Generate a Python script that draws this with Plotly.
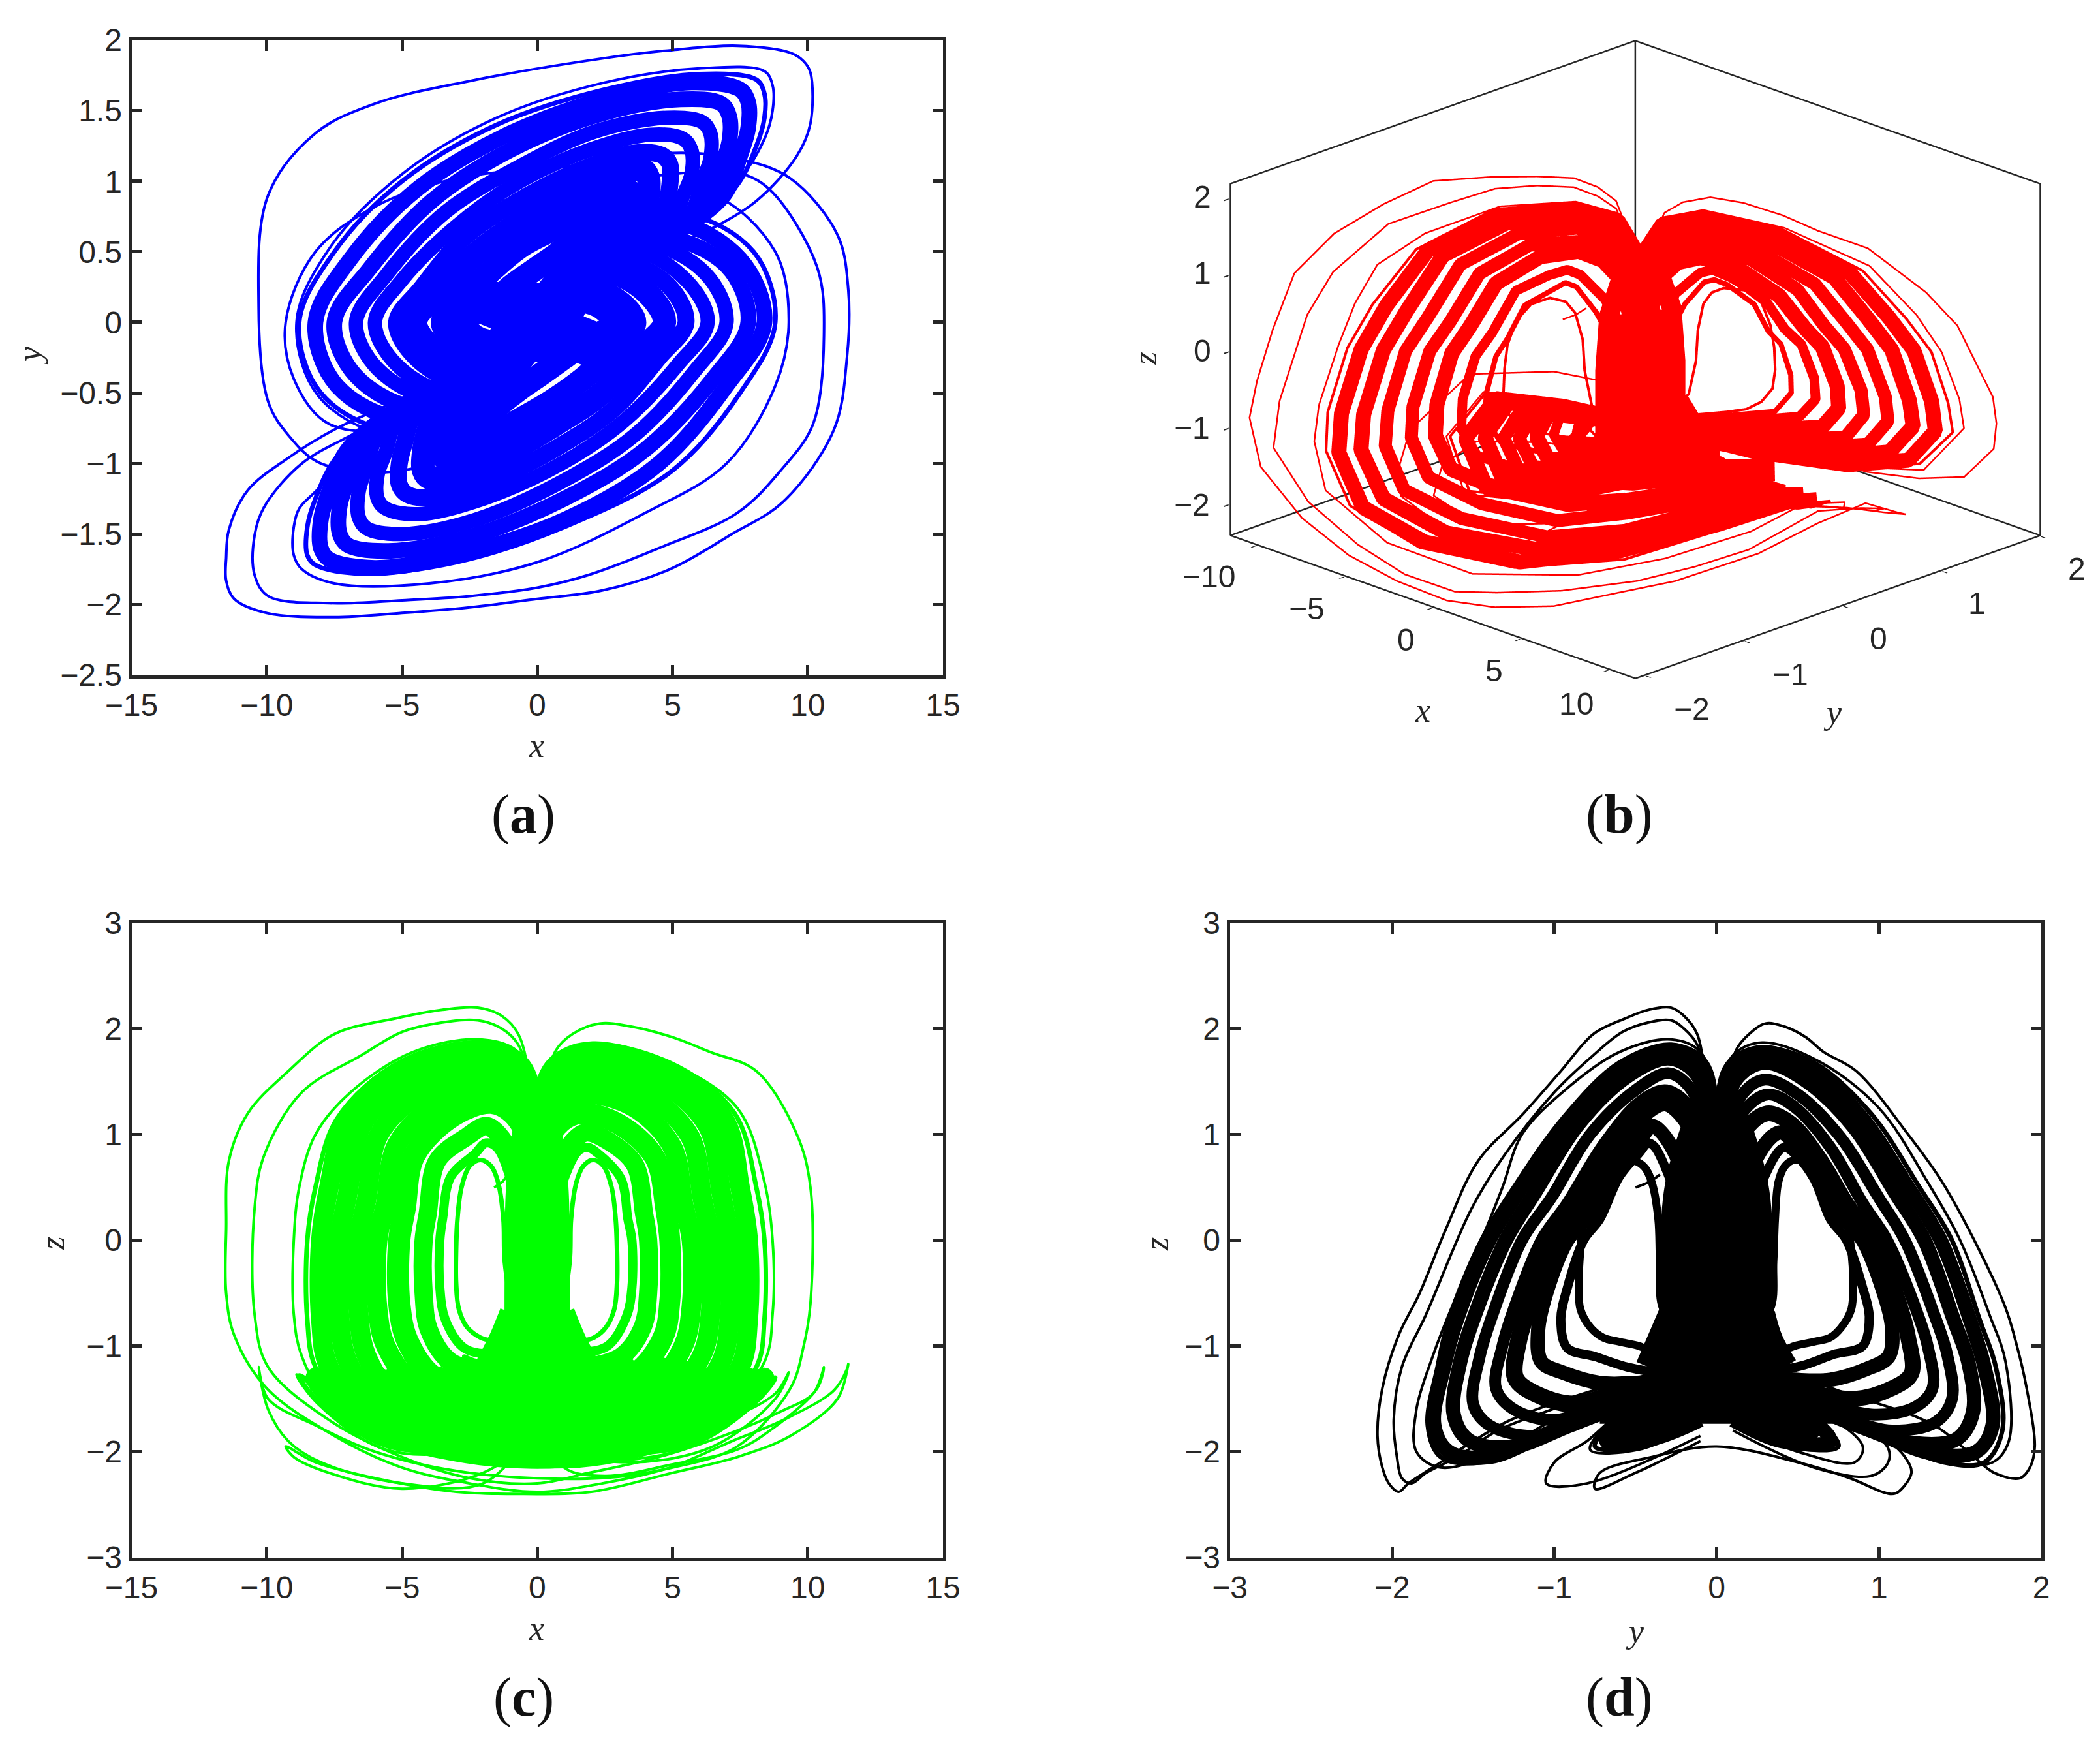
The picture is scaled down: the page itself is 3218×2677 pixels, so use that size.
import plotly.graph_objects as go

W, H = 3218, 2677

# trajectory read from the four projections: one row per excursion
x_left = [
 [.1,-.02,-.05,-.12,-.3,-.7,-1.3,-2.2,-3.5,-5.2,-7.5,-9.2,-10.7,-11.4,-11.5,-11.5,-11.2,-10,-7.5,-5,-2.5,0,2.4,4.9,7.2,9.1,10.97,11.45,11.5,11.1,9.36,7.4,5,2,-.5,-3,-6,-8.2,-9.3,-9,-7.7,-5,-2,-.3],
 [.1,-.02,-.05,-.12,-.3,-.7,-1.3,-2.2,-3.5,-5,-6.5,-8.7,-10.1,-10.45,-10.45,-9.95,-7.7,-5,-2.5,0,1.9,4.5,7.4,9,10.2,10.6,10.35,8.6,7.4,5,2.5,1,.3],
 [.1,-.05,-.15,-.7,-2.1,-4.6,-6.9,-8.2,-8.8,-9,-9,-8.7,-7.5,-4,0,4,7,8.8,9.3,8.8,6.5,3.5,1.3,.3],
 [.1,-.05,-.15,-.7,-2.1,-5.1,-7.4,-8.2,-8.5,-8.5,-8.2,-6.5,-3,1,5,7.5,8.8,8,5.5,2.5,.3],
 [.1,-.05,-.15,-.7,-2.1,-4.9,-7,-7.7,-8,-8,-7.7,-6,-3,1,4.5,7,8.4,7.5,5,2.3,.3],
 [.1,-.05,-.18,-.75,-2,-4.5,-6.45,-7,-7.3,-7.3,-7,-5.5,-2.5,1,4,6.5,7.8,7,4.5,2,.3],
 [.1,-.08,-.2,-.8,-1.9,-4.1,-5.85,-6.3,-6.6,-6.6,-6.3,-5,-2.3,1,3.6,5.8,7,6.2,4,1.8,.3],
 [.1,-.1,-.25,-.85,-1.8,-3.6,-5.2,-5.6,-5.9,-5.9,-5.6,-4.4,-2,.9,3.2,5.2,6.3,5.5,3.6,1.6,.3],
 [.1,-.12,-.3,-.9,-1.7,-3.1,-4.55,-4.9,-5.1,-5.1,-4.8,-3.8,-1.7,.8,2.8,4.5,5.5,4.8,3.1,1.4,.3],
 [.1,-.3,-.75,-1.5,-1.9,-2.6,-3.7,-4.05,-4.2,-4.2,-4,-3.2,-1.4,.7,2.4,3.8,4.7,4,2.6,1.2,.3],
 [.1,-.4,-.95,-1.5,-1.9,-2.3,-3.2,-3.5,-3.6,-3.6,-3.4,-2.7,-1.2,.6,2,3,3.6,3,2,1,.3],
 [.2,-.6,-.9,-1.2,-1.25,-1.45,-1.7,-2.1,-2.5,-2.8,-2.95,-3,-3,-2.9,-2.6,-2.1,-1.5,-.7,.2,1,1.8,2.4,2.8,2.4,1.6,.8,.2],
]
y_left = [
 [0,-.01,-.01,-.03,-.07,-.12,-.2,-.28,-.42,-.56,-.76,-.96,-1.19,-1.47,-1.67,-1.83,-1.96,-2.06,-2.09,-2.06,-2.02,-1.96,-1.9,-1.75,-1.5,-1.27,-.76,-.25,.23,.62,1.02,1.16,1.2,1.12,1.08,1.02,.82,.5,0,-.4,-.72,-.75,-.5,-.1],
 [0,-.01,-.01,-.03,-.07,-.12,-.2,-.28,-.42,-.58,-.76,-1,-1.31,-1.51,-1.79,-1.94,-1.99,-1.97,-1.94,-1.88,-1.79,-1.6,-1.35,-1.05,-.72,-.09,.39,.94,1.06,1.05,.95,.6,.1],
 [0,-.01,-.03,-.1,-.28,-.6,-.95,-1.2,-1.32,-1.45,-1.65,-1.75,-1.85,-1.85,-1.7,-1.35,-1,-.45,0,.5,.9,.85,.5,.1],
 [0,-.01,-.03,-.1,-.28,-.6,-.95,-1.25,-1.45,-1.65,-1.72,-1.78,-1.7,-1.45,-1.05,-.5,0,.5,.75,.45,.1],
 [0,-.01,-.03,-.1,-.28,-.58,-.9,-1.2,-1.4,-1.6,-1.68,-1.74,-1.65,-1.4,-1,-.45,0,.45,.7,.4,.1],
 [0,-.02,-.05,-.14,-.3,-.55,-.85,-1.12,-1.3,-1.5,-1.58,-1.62,-1.52,-1.25,-.9,-.4,0,.4,.6,.35,.08],
 [0,-.03,-.08,-.18,-.3,-.5,-.78,-1.02,-1.2,-1.38,-1.46,-1.5,-1.4,-1.12,-.8,-.35,0,.35,.55,.3,.07],
 [0,-.04,-.1,-.2,-.32,-.48,-.7,-.92,-1.08,-1.25,-1.32,-1.36,-1.25,-1,-.7,-.3,0,.3,.5,.28,.06],
 [0,-.05,-.12,-.22,-.32,-.46,-.65,-.85,-1,-1.15,-1.22,-1.24,-1.12,-.88,-.62,-.25,0,.27,.42,.25,.06],
 [0,-.1,-.22,-.34,-.4,-.46,-.6,-.78,-.92,-1.05,-1.1,-1.08,-.95,-.72,-.5,-.2,0,.22,.35,.2,.05],
 [0,-.15,-.28,-.38,-.42,-.48,-.6,-.72,-.82,-.92,-.96,-.92,-.75,-.55,-.35,-.15,0,.15,.22,.15,.05],
 [0,-.2,-.33,-.35,-.36,-.4,-.45,-.54,-.66,-.76,-.82,-.84,-.85,-.84,-.78,-.7,-.6,-.48,-.36,-.25,-.14,-.07,0,.1,.15,.1,.03],
]
z_left = [
 [-1.7,-.5,.4,1.1,1.55,1.95,2.12,2.2,2.18,2.1,1.95,1.6,1.2,.75,.1,-.5,-.9,-1.4,-1.85,-2.15,-2.3,-2.38,-2.3,-2.15,-1.9,-1.7,-1.42,-1.22,-1.17,-1.5,-1.85,-2.05,-2.2,-2.38,-2.4,-2.38,-2.25,-2.1,-1.95,-2.05,-2.2,-2.35,-2.2,-1.9],
 [-1.6,-.5,.4,1.05,1.5,1.85,2,2.08,2.06,1.97,1.75,1.4,.8,.3,-.7,-1.2,-1.7,-2.05,-2.25,-2.3,-2.2,-2.05,-1.8,-1.62,-1.45,-1.2,-1.4,-1.8,-1.98,-2.12,-2.23,-2.15,-1.8],
 [-1.55,.4,1.42,1.78,1.9,1.78,1.4,1,.5,0,-.7,-1.1,-1.6,-2,-2.15,-2,-1.7,-1.45,-1.25,-1.5,-1.95,-2.1,-2,-1.75],
 [-1.5,.4,1.38,1.72,1.85,1.68,1.15,.5,0,-.75,-1.2,-1.75,-2.05,-2.1,-1.85,-1.5,-1.3,-1.55,-1.95,-1.95,-1.7],
 [-1.5,.4,1.33,1.68,1.8,1.63,1.15,.5,0,-.75,-1.2,-1.75,-2,-2.05,-1.8,-1.5,-1.3,-1.55,-1.9,-1.9,-1.7],
 [-1.5,.4,1.28,1.6,1.72,1.55,1.1,.45,0,-.75,-1.15,-1.65,-1.9,-1.95,-1.75,-1.45,-1.3,-1.5,-1.8,-1.8,-1.65],
 [-1.45,.3,1.15,1.47,1.58,1.42,1,.4,0,-.7,-1.1,-1.55,-1.75,-1.85,-1.7,-1.45,-1.3,-1.5,-1.7,-1.7,-1.6],
 [-1.4,.3,1.05,1.32,1.42,1.3,.9,.35,0,-.65,-1,-1.4,-1.6,-1.7,-1.55,-1.4,-1.3,-1.45,-1.6,-1.6,-1.5],
 [-1.35,.2,.92,1.2,1.3,1.18,.8,.3,0,-.6,-.95,-1.3,-1.45,-1.55,-1.45,-1.35,-1.25,-1.4,-1.5,-1.5,-1.45],
 [-1.3,.1,.7,1.02,1.08,.98,.75,.25,0,-.5,-.85,-1.15,-1.25,-1.35,-1.35,-1.3,-1.2,-1.35,-1.4,-1.4,-1.35],
 [-1.2,0,.55,.88,.92,.82,.6,.2,0,-.45,-.75,-1.02,-1.1,-1.2,-1.25,-1.25,-1.15,-1.25,-1.3,-1.3,-1.25],
 [-1.1,-.85,-.65,-.2,.2,.55,.7,.76,.7,.5,.2,-.1,-.4,-.65,-.82,-.92,-.96,-1,-1.08,-1.12,-1.15,-1.15,-1.1,-1.2,-1.25,-1.25,-1.2],
]
x_right = [
 [-.1,.02,.05,.12,.3,.7,1.3,2.3,3.5,5,6.4,8.1,9.6,10.1,10.1,9.85,9.36,7.4,5,2.4,-2.5,-6,-8.2,-9.95,-10.3,-9.95,-9.2,-8,-5,-2,-.3],
 [-.1,.05,.15,.7,2.05,4.7,7.4,8.4,8.7,8.7,8.4,6,2.5,-1.5,-5,-7.7,-8.9,-8.1,-5.6,-2.5,-.3],
 [-.1,.05,.15,.7,2.05,4.9,7.3,8.1,8.4,8.4,8.1,6,2.5,-1.5,-5,-7.5,-8.8,-8,-5.5,-2.5,-.3],
 [-.1,.05,.15,.7,2,4.7,6.9,7.5,7.8,7.8,7.5,5.7,2.8,-1,-4.4,-6.9,-8.2,-7.4,-4.9,-2.2,-.3],
 [-.1,.05,.18,.75,1.9,4.4,6.3,6.8,7.1,7.1,6.8,5.3,2.4,-1,-3.9,-6.2,-7.5,-6.7,-4.4,-2,-.3],
 [-.1,.08,.2,.8,1.85,4,5.65,6.1,6.4,6.4,6.1,4.8,2.1,-.9,-3.4,-5.6,-6.7,-5.9,-3.8,-1.7,-.3],
 [-.1,.1,.25,.85,1.75,3.55,5,5.4,5.7,5.7,5.4,4.2,1.9,-.9,-3,-5,-6,-5.2,-3.4,-1.5,-.3],
 [-.1,.12,.3,.9,1.65,3,4.35,4.75,4.9,4.9,4.65,3.6,1.6,-.8,-2.7,-4.3,-5.2,-4.5,-3,-1.3,-.3],
 [-.1,.3,.75,1.5,1.85,2.55,3.6,3.95,4.1,4.1,3.9,3.1,1.4,-.7,-2.3,-3.7,-4.5,-3.8,-2.5,-1.1,-.3],
 [-.1,.4,.95,1.5,1.85,2.25,3.1,3.35,3.5,3.5,3.3,2.6,1.2,-.6,-1.9,-2.9,-3.5,-2.9,-1.9,-1,-.3],
 [-.2,.6,.9,1.2,1.25,1.45,1.7,2.05,2.45,2.75,2.9,2.95,2.95,2.85,2.55,2.1,1.5,.7,-.2,-1,-1.6,-2.3,-2.7,-2.3,-1.5,-.8,-.2],
]
y_right = [
 [0,.01,.01,.03,.07,.12,.2,.3,.42,.55,.66,.86,1.18,1.41,1.77,1.85,1.91,1.96,1.93,1.87,1.71,1.55,1.34,.9,.11,-.56,-.8,-1,-1.05,-.8,-.1],
 [0,.01,.03,.1,.28,.62,1,1.3,1.5,1.68,1.78,1.8,1.7,1.45,1.05,.52,0,-.52,-.78,-.48,-.1],
 [0,.01,.03,.1,.28,.6,.95,1.25,1.45,1.62,1.72,1.76,1.65,1.4,1,.5,0,-.5,-.75,-.45,-.1],
 [0,.01,.03,.1,.28,.58,.9,1.18,1.38,1.56,1.65,1.7,1.6,1.34,.95,.45,0,-.45,-.68,-.4,-.1],
 [0,.02,.05,.14,.3,.54,.84,1.1,1.28,1.46,1.55,1.58,1.48,1.22,.86,.38,0,-.38,-.6,-.34,-.08],
 [0,.03,.08,.18,.3,.5,.76,1,1.16,1.34,1.42,1.45,1.35,1.08,.78,.33,0,-.33,-.53,-.3,-.07],
 [0,.04,.1,.2,.32,.48,.7,.9,1.05,1.22,1.3,1.33,1.22,.97,.68,.3,0,-.3,-.48,-.27,-.06],
 [0,.05,.12,.22,.32,.46,.63,.82,.97,1.12,1.18,1.2,1.08,.85,.6,.24,0,-.25,-.4,-.24,-.05],
 [0,.1,.22,.34,.4,.46,.6,.76,.9,1.03,1.08,1.06,.92,.7,.48,.2,0,-.2,-.33,-.2,-.05],
 [0,.15,.28,.38,.42,.48,.6,.7,.8,.9,.94,.9,.72,.54,.33,.14,0,-.15,-.2,-.14,-.04],
 [0,.2,.33,.35,.36,.38,.42,.48,.62,.74,.8,.83,.84,.83,.77,.7,.6,.48,.36,.25,.14,.07,0,-.1,-.14,-.1,-.03],
]
z_right = [
 [-1.7,-.5,.4,1,1.45,1.8,1.95,2.05,2.02,1.92,1.78,1.6,1,.5,-.6,-1,-1.4,-1.95,-2.15,-2.25,-2.2,-2,-1.75,-1.5,-1.2,-1.6,-1.9,-2.1,-2.3,-2.3,-1.85],
 [-1.6,.4,1.4,1.75,1.87,1.7,1.25,.55,0,-.7,-1.15,-1.9,-2.1,-2.1,-1.85,-1.5,-1.27,-1.55,-1.98,-1.98,-1.72],
 [-1.55,.4,1.36,1.7,1.82,1.68,1.2,.5,0,-.75,-1.2,-1.8,-2.1,-2.1,-1.85,-1.5,-1.28,-1.55,-1.95,-1.95,-1.7],
 [-1.5,.4,1.32,1.66,1.78,1.62,1.15,.5,0,-.75,-1.2,-1.75,-2,-2.02,-1.8,-1.5,-1.3,-1.55,-1.9,-1.88,-1.7],
 [-1.5,.4,1.25,1.56,1.68,1.52,1.08,.45,0,-.75,-1.15,-1.62,-1.88,-1.92,-1.75,-1.45,-1.3,-1.5,-1.8,-1.78,-1.65],
 [-1.45,.3,1.12,1.42,1.52,1.38,.98,.4,0,-.7,-1.08,-1.5,-1.72,-1.8,-1.68,-1.45,-1.3,-1.48,-1.7,-1.68,-1.58],
 [-1.4,.3,1.02,1.28,1.38,1.26,.88,.35,0,-.62,-1,-1.4,-1.58,-1.65,-1.55,-1.4,-1.28,-1.44,-1.58,-1.58,-1.5],
 [-1.35,.2,.88,1.12,1.2,1.1,.78,.3,0,-.58,-.92,-1.26,-1.4,-1.5,-1.45,-1.35,-1.25,-1.38,-1.48,-1.48,-1.42],
 [-1.3,.1,.7,.98,1.02,.95,.72,.25,0,-.5,-.82,-1.1,-1.22,-1.32,-1.32,-1.28,-1.2,-1.32,-1.38,-1.38,-1.33],
 [-1.2,0,.55,.84,.88,.82,.58,.2,0,-.45,-.72,-1,-1.08,-1.18,-1.24,-1.24,-1.15,-1.24,-1.28,-1.28,-1.24],
 [-1.1,-.85,-.65,-.2,.2,.55,.7,.76,.7,.5,.2,-.1,-.4,-.65,-.82,-.92,-.96,-1,-1.08,-1.12,-1.14,-1.14,-1.1,-1.18,-1.24,-1.24,-1.2],
]

# dense central column and the lower fan joining the two lobes
core_x = [
 [-.6,-.6,-.55,-.3,-.1],
 [.6,.6,.55,.3,.1],
 [-2.2,-1.2,0,1.2,2.2],
 [-3.6,-2,0,2,3.6],
 [-.3,-.3,-.3],
 [.3,.3,.3],
 [-.8,-1.2,-1.7],
 [.8,1.2,1.7],
 [-2.6,-1.3,0,1.3,2.6],
]
core_y = [
 [-.25,-.25,-.22,-.12,-.04],
 [.25,.25,.22,.12,.04],
 [-.42,-.28,0,.28,.42],
 [-.72,-.4,0,.4,.72],
 [-.12,-.12,-.12],
 [.12,.12,.12],
 [-.28,-.35,-.42],
 [.28,.33,.42],
 [.2,.1,0,-.1,-.2],
]
core_z = [
 [-1.6,-.2,.5,1.05,1.35],
 [-1.6,-.2,.5,1.05,1.35],
 [-1.25,-1.25,-1.25,-1.25,-1.25],
 [-1.6,-1.6,-1.6,-1.6,-1.6],
 [-1.7,-.4,.5],
 [-1.7,-.4,.5],
 [-.7,-.95,-1.2],
 [-.7,-.95,-1.2],
 [-1.4,-1.4,-1.4,-1.4,-1.4],
]

start_x = [-1.6, -1.3, -1.1]
start_y = [-.5, -.42, -.35]
start_z = [.5, .55, .62]

widths_a = [4,4,4,7,24,24,22,22,26,36,36,36] + [4,4,7,24,24,22,22,26,36,36,36] + [120,120,70,70,100,100,40,40,70] + [4]
widths_c = [4,4,4,7,30,30,30,30,34,28,14,7] + [4,4,7,30,30,30,30,32,28,14,7] + [50,50,50,50,50,50,50,50,30] + [4]
widths_d = [4,4,4,7,22,22,18,18,26,22,14,12] + [4,4,7,22,22,18,18,24,22,14,12] + [50,50,44,44,50,50,40,40,30] + [4]
widths_b = [5,5,5,8,46,46,40,40,46,30,16,8] + [5,5,8,46,46,40,40,46,30,16,8] + [60,60,70,70,60,60,40,40,70] + [5]

series_x = x_left + x_right + core_x + [start_x]
series_y = y_left + y_right + core_y + [start_y]
series_z = z_left + z_right + core_z + [start_z]

x_ticks = [-15, -10, -5, 0, 5, 10, 15]
y_ticks_a = [-2.5, -2, -1.5, -1, -.5, 0, .5, 1, 1.5, 2]
z_ticks = [-3, -2, -1, 0, 1, 2, 3]
y_ticks_d = [-3, -2, -1, 0, 1, 2]
scene_x_ticks = [-10, -5, 0, 5, 10]
scene_y_ticks = [-2, -1, 0, 1, 2]
scene_z_ticks = [-2, -1, 0, 1, 2]
frame_x = [-11.5, 11.5]
frame_y = [-2.1, 2]
frame_z = [-2.4, 2.2]
scene_x_range = [-11.55, 11.55]
scene_y_range = [-2.11, 2.01]
scene_z_range = [-2.41, 2.21]

AX = '#262626'
TICK = dict(family='Liberation Sans', size=48, color=AX)
LAB = dict(family='Liberation Serif', size=52, color=AX)

fig = go.Figure()

def add2d(xs, ys, widths, color, axn):
    for xv, yv, w in zip(xs, ys, widths):
        fig.add_trace(go.Scatter(x=xv, y=yv, mode='lines', showlegend=False,
                                 line=dict(color=color, width=w, shape='spline', smoothing=1.0),
                                 xaxis='x' + axn, yaxis='y' + axn, hoverinfo='skip'))

add2d(series_x, series_y, widths_a, '#0000ff', '')
add2d(series_x, series_z, widths_c, '#00ff00', '2')
add2d(series_y, series_z, widths_d, '#000000', '3')

# frame of the 3-D box
x0, x1 = frame_x
y0, y1 = frame_y
z0, z1 = frame_z
fig.add_trace(go.Scatter3d(
    x=[x0, x0, x0, x0, x0, x1, x1, x0, x0, x1, x1],
    y=[y0, y0, y1, y1, y1, y1, y1, y1, y0, y0, y1],
    z=[z0, z1, z1, z0, z1, z1, z0, z0, z0, z0, z0],
    mode='lines', line=dict(color=AX, width=5), showlegend=False, hoverinfo='skip'))
for xv, yv, zv, w in zip(series_x, series_y, series_z, widths_b):
    fig.add_trace(go.Scatter3d(x=xv, y=yv, z=zv, mode='lines', showlegend=False,
                               line=dict(color='#ff0000', width=w), hoverinfo='skip'))

def axis2d(dom, rng, ticks):
    return dict(domain=dom, range=rng, tickmode='array', tickvals=ticks,
                ticktext=[str(t).replace('-', '\u2212') if abs(t) != .5 else ('0.5' if t > 0 else '\u22120.5') for t in ticks],
                ticks='inside', ticklen=16, tickwidth=5, tickcolor=AX,
                showline=True, linewidth=5, linecolor=AX, mirror='ticks',
                showgrid=False, zeroline=False, tickfont=TICK, automargin=False)

def px(a, b):
    return [a / W, b / W]

def py(a, b):
    return [1 - b / H, 1 - a / H]

L, R = 201.5, 1445
L2, R2 = 1884.5, 3128
T1, B1 = 61.5, 1034.5
T2, B2 = 1414.5, 2386.5

fig.update_layout(
    width=W, height=H, margin=dict(l=0, r=0, t=0, b=0),
    paper_bgcolor='white', plot_bgcolor='white', showlegend=False,
    xaxis=axis2d(px(L, R), [-15, 15], x_ticks),
    yaxis=axis2d(py(T1, B1), [-2.5, 2], y_ticks_a),
    xaxis2=axis2d(px(L, R), [-15, 15], x_ticks),
    yaxis2=axis2d(py(T2, B2), [-3, 3], z_ticks),
    xaxis3=axis2d(px(L2, R2), [-3, 2], y_ticks_d),
    yaxis3=axis2d(py(T2, B2), [-3, 3], z_ticks),
)
fig.update_layout(
    xaxis=dict(anchor='y'), yaxis=dict(anchor='x'),
    xaxis2=dict(anchor='y2'), yaxis2=dict(anchor='x2'),
    xaxis3=dict(anchor='y3'), yaxis3=dict(anchor='x3'),
)

def ax3d(rng, ticks):
    return dict(range=rng, tickmode='array', tickvals=ticks,
                showticklabels=False,
                showgrid=False, zeroline=False, showbackground=False, showspikes=False,
                showline=False, ticks='outside', ticklen=10, tickwidth=4, tickcolor=AX,
                title=dict(text=''))

fig.update_layout(scene=dict(
    domain=dict(x=[1806 / W, 3206 / W], y=[1 - 1102 / H, 1]),
    xaxis=ax3d(scene_x_range, scene_x_ticks),
    yaxis=ax3d(scene_y_range, scene_y_ticks),
    zaxis=ax3d(scene_z_range, scene_z_ticks),
    aspectmode='manual', aspectratio=dict(x=1.6, y=1.6, z=1.05),
    camera=dict(projection=dict(type='orthographic'),
                center=dict(x=0, y=0, z=0), up=dict(x=0, y=0, z=1),
                eye=dict(x=.783, y=-.783, z=.418)),
    bgcolor='white'))

panel_names = ['(<b>a</b>)', '(<b>b</b>)', '(<b>c</b>)', '(<b>d</b>)']
panel_pos = [(802, 1248), (2481, 1248), (802, 2601), (2481, 2601)]
ann = [dict(text=t, x=p[0] / W, y=1 - p[1] / H, xref='paper', yref='paper', showarrow=False,
            xanchor='center', yanchor='middle',
            font=dict(family='Liberation Serif', size=84, color='#111111'))
       for t, p in zip(panel_names, panel_pos)]
label_text = ['x', 'y', 'x', 'z', 'y', 'z', 'x', 'y', 'z']
label_pos = [(822, 1142, 0), (45, 545, -90), (822, 2495, 0), (80, 1906, -90), (2505, 2499, 0),
             (1772, 1906, -90), (2180, 1088, 0), (2808, 1091, 0), (1754, 550, -90)]
ann += [dict(text='<i>%s</i>' % t, x=p[0] / W, y=1 - p[1] / H, xref='paper', yref='paper', showarrow=False,
             xanchor='center', yanchor='middle', textangle=p[2], font=LAB)
        for t, p in zip(label_text, label_pos)]
# tick numbers of the 3-D box
scene_x_pos = [(1852, 883), (2002, 932), (2154, 981), (2289, 1028), (2415, 1078)]
scene_y_pos = [(2592, 1087), (2743, 1033), (2878, 979), (3029, 924), (3182, 872)]
scene_z_pos = [(1826, 773), (1826, 655), (1842, 537), (1842, 418), (1842, 301)]
for vals, pos in ((scene_x_ticks, scene_x_pos), (scene_y_ticks, scene_y_pos), (scene_z_ticks, scene_z_pos)):
    ann += [dict(text=str(v).replace('-', '\u2212'), x=p[0] / W, y=1 - p[1] / H, xref='paper', yref='paper',
                 showarrow=False, xanchor='center', yanchor='middle', font=TICK)
            for v, p in zip(vals, pos)]
fig.update_layout(annotations=ann)

fig.write_html('out.html', config={'displayModeBar': False}, post_script="document.body.style.margin='0';")
